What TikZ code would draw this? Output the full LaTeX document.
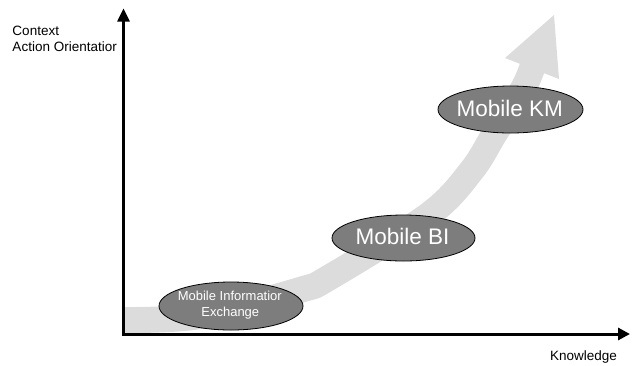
\documentclass[tikz,border=0pt]{standalone}
\usepackage{fontspec}
\setmainfont{Liberation Sans}
\usetikzlibrary{arrows.meta,shapes.geometric}
\definecolor{bandgray}{HTML}{DCDCDC}
\definecolor{blobgray}{HTML}{7D7D7D}
\tikzset{
  axisline/.style={line width=3pt,line join=miter},
  band/.style={line width=26pt,draw=bandgray},
  bandhead/.style={fill=bandgray,draw=none},
  blob/.style={ellipse,draw=black,line width=0.8pt,fill=blobgray,inner sep=0pt,outer sep=0pt},
  axislabel/.style={font=\fontsize{13.5}{16}\selectfont,inner sep=0pt,anchor=base west},
  bigtxt/.style={font=\fontsize{22.5}{26}\selectfont,text=white,inner sep=0pt,anchor=base},
  smalltxt/.style={font=\fontsize{13}{15.5}\selectfont,text=white,inner sep=0pt,anchor=base}
}
\begin{document}
\begin{tikzpicture}[x=1pt,y=-1pt]
\useasboundingbox (0,0) rectangle (634,365);
% coordinates of the axes
\coordinate (o) at (123.5,334);
\coordinate (ytip) at (123.5,8.3);
\coordinate (xtip) at (630,334);
% growth band
\draw[band] plot[smooth,tension=0.55] coordinates {(124,320) (200,316) (300,290) (330,277) (430,214) (472,170) (495,133) (524,87) (534,62)};
\coordinate (hl) at (505,58);
\coordinate (ht) at (554,15);
\coordinate (hr) at (559,79);
\fill[bandhead] (hl) -- (ht) -- (hr) -- cycle;
% axes
\draw[axisline,{Triangle[length=13.4pt,width=12pt]}-{Triangle[length=12pt,width=12pt]}] (ytip) -- (o) -- (xtip);
% labels
\node[axislabel] (ctx) at (12.3,35.7) {Context};
\node[axislabel] (aor) at (12.3,51.7) {Action Orientatior};
\node[axislabel] (kn) at (550,360.7) {Knowledge};
% ellipses
\node[blob,minimum width=144pt,minimum height=48pt] (mie) at (231,306) {};
\node[blob,minimum width=143pt,minimum height=46pt] (mbi) at (403.5,238) {};
\node[blob,minimum width=145pt,minimum height=47pt] (mkm) at (510.5,109.5) {};
\node[smalltxt] (mie1) at (229.8,300.7) {Mobile Informatior};
\node[smalltxt] (mie2) at (230.3,316.2) {Exchange};
\node[bigtxt] (mbit) at (402.5,244.3) {Mobile BI};
\node[bigtxt] (mkmt) at (509.7,116.7) {Mobile KM};
\end{tikzpicture}
\end{document}
